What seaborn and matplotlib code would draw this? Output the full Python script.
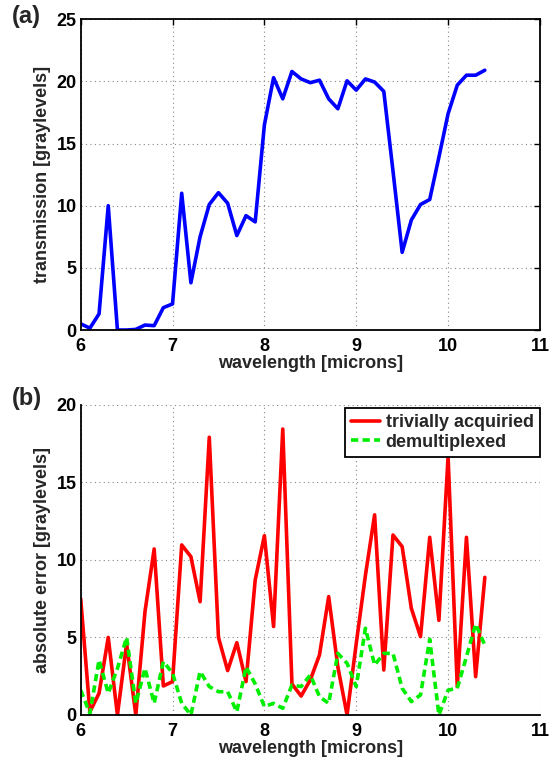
import numpy as np
import pandas as pd
import matplotlib
matplotlib.use("Agg")
import matplotlib.pyplot as plt
import seaborn as sns

# wavelength grid in microns
wavelength = [6.0, 6.1, 6.2, 6.3, 6.4, 6.5, 6.6, 6.7, 6.8, 6.9,
              7.0, 7.1, 7.2, 7.3, 7.4, 7.5, 7.6, 7.7, 7.8, 7.9,
              8.0, 8.1, 8.2, 8.3, 8.4, 8.5, 8.6, 8.7, 8.8, 8.9,
              9.0, 9.1, 9.2, 9.3, 9.4, 9.5, 9.6, 9.7, 9.8, 9.9,
              10.0, 10.1, 10.2, 10.3, 10.4]

# measured transmission [graylevels]
transmission = [0.5, 0.15, 1.3, 10.0, 0.0, 0.0, 0.05, 0.4, 0.35, 1.8,
                2.1, 11.0, 3.8, 7.5, 10.1, 11.05, 10.2, 7.6, 9.2, 8.7,
                16.5, 20.3, 18.6, 20.8, 20.2, 19.9, 20.1, 18.6, 17.8, 20.05,
                19.3, 20.2, 19.95, 19.2, 12.8, 6.25, 8.85, 10.1, 10.5, 13.9,
                17.4, 19.7, 20.5, 20.5, 20.9]

# absolute error [graylevels]
err_trivial = [7.5, 0.2, 1.4, 5.0, 0.0, 4.6, 0.0, 6.66, 10.7, 1.87,
               2.15, 10.96, 10.2, 7.3, 17.9, 5.0, 2.86, 4.66, 2.15, 8.7,
               11.56, 5.7, 18.43, 2.0, 1.22, 2.26, 3.87, 7.63, 3.1, 0.0,
               4.6, 9.0, 12.9, 2.9, 11.6, 10.85, 6.87, 5.05, 11.45, 6.1,
               16.65, 1.83, 11.45, 2.47, 8.87]
err_demux = [1.6, 0.1, 3.54, 1.4, 3.0, 5.0, 0.75, 3.0, 0.75, 3.44,
             2.7, 0.75, 0.0, 2.8, 1.83, 1.5, 1.5, 0.2, 3.1, 2.0,
             0.54, 0.75, 0.43, 1.93, 1.83, 2.58, 1.18, 0.75, 3.97, 3.33,
             1.83, 5.59, 3.22, 3.97, 3.97, 1.72, 0.86, 1.29, 4.88, 0.0,
             1.6, 1.72, 3.76, 5.86, 4.5]

series_names = ["trivially acquiried", "demultiplexed"]

sns.set_style("white")
plt.rcParams["font.family"] = ["Liberation Sans", "DejaVu Sans"]
plt.rcParams["font.weight"] = "bold"
plt.rcParams["axes.labelweight"] = "bold"
plt.rcParams["xtick.direction"] = "in"
plt.rcParams["ytick.direction"] = "in"

FS = 13

fig = plt.figure(figsize=(5.5, 7.65), dpi=100)
left, width = 0.1467, 0.835
ax1 = fig.add_axes([left, 0.5686, width, 0.4062])
ax2 = fig.add_axes([left, 0.0654, width, 0.4056])

df_t = pd.DataFrame({"wavelength": wavelength, "transmission": transmission})
sns.lineplot(data=df_t, x="wavelength", y="transmission", ax=ax1,
             color="#0000ff", linewidth=2.6)

df_e = pd.DataFrame({
    "wavelength": wavelength * 2,
    "error": err_trivial + err_demux,
    "series": [series_names[0]] * len(wavelength) + [series_names[1]] * len(wavelength),
})
sns.lineplot(data=df_e, x="wavelength", y="error", hue="series", style="series",
             palette={series_names[0]: "#ff0000", series_names[1]: "#00ee00"},
             dashes={series_names[0]: "", series_names[1]: (2.0, 1.2)},
             linewidth=2.6, ax=ax2)


def style_axes(ax, ylim, yticks, ylabel, box):
    ax.set_xlim(6, 11)
    ax.set_ylim(*ylim)
    ax.set_xticks([6, 7, 8, 9, 10, 11])
    ax.set_yticks(yticks)
    ax.set_xlabel("wavelength [microns]", fontsize=FS, fontweight="bold", labelpad=0)
    ax.set_ylabel(ylabel, fontsize=FS, fontweight="bold", labelpad=4)
    ax.grid(True, linestyle=(0, (1, 3)), color="#888888", linewidth=0.8)
    ax.tick_params(axis="both", labelsize=FS, length=4, width=1.0, colors="black",
                   top=box, right=box)
    ax.tick_params(axis="x", pad=5.5)
    ax.tick_params(axis="y", pad=3)
    for lab in ax.get_xticklabels() + ax.get_yticklabels():
        lab.set_fontweight("bold")
    for side in ["left", "bottom"]:
        ax.spines[side].set_color("black")
        ax.spines[side].set_linewidth(1.3)
    for side in ["top", "right"]:
        ax.spines[side].set_visible(box)
        ax.spines[side].set_color("black")
        ax.spines[side].set_linewidth(1.3)


style_axes(ax1, (0, 25), [0, 5, 10, 15, 20, 25], "transmission [graylevels]", True)
style_axes(ax2, (0, 20), [0, 5, 10, 15, 20], "absolute error [graylevels]", False)

leg = ax2.legend(loc="upper right", bbox_to_anchor=(1.0, 0.99), frameon=True,
                 fancybox=False, edgecolor="black", framealpha=1.0,
                 prop={"weight": "bold", "size": FS}, handlelength=1.6,
                 handletextpad=0.3, borderpad=0.35, labelspacing=0.15,
                 borderaxespad=0.0)
leg.get_frame().set_linewidth(1.3)

fig.text(0.022, 0.993, "(a)", fontsize=17, fontweight="bold", va="top", ha="left")
fig.text(0.022, 0.494, "(b)", fontsize=17, fontweight="bold", va="top", ha="left")

fig.savefig("out.png", dpi=100)
